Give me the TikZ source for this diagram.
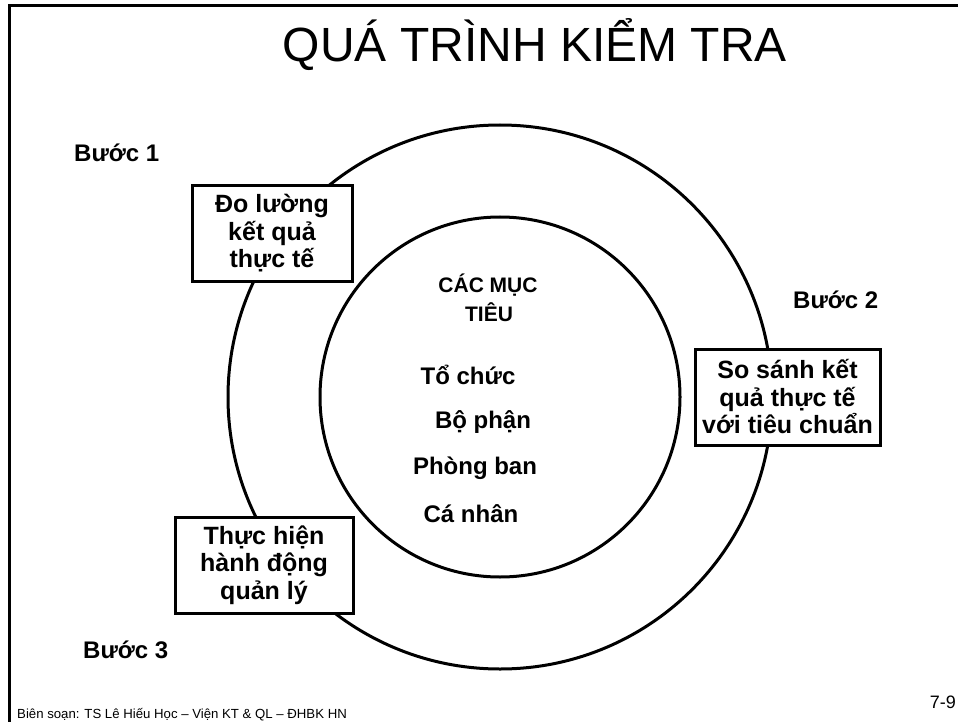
\documentclass[tikz,border=0pt]{standalone}
\usepackage{fontspec}
\setmainfont{Liberation Sans}
\begin{document}
\begin{tikzpicture}[x=1pt,y=-1pt,
  stepbox/.style={draw=black,line width=3pt,fill=white,align=center,font=\fontsize{25}{27.5}\selectfont\bfseries,inner sep=0pt},
  steplabel/.style={anchor=base west,font=\fontsize{24}{27}\selectfont\bfseries,inner sep=0pt},
  goal/.style={anchor=base,font=\fontsize{24}{27}\selectfont\bfseries,inner sep=0pt},
  goalhead/.style={anchor=base,font=\fontsize{21}{27}\selectfont\bfseries,inner sep=0pt}]
\useasboundingbox (0,0) rectangle (958,722);
% frame
\draw[line width=3pt] (9,722) -- (9,6) -- (958,6);
% title
\node[anchor=base,inner sep=0pt,font=\fontsize{48}{50}\selectfont] (title) at (535,62) {QUÁ TRÌNH KIỂM TRA};
% circles
\coordinate (c) at (500,397);
\draw[line width=3pt] (c) circle[radius=272];
\draw[line width=3pt] (c) circle[radius=180];
% boxes
\node[stepbox,minimum width=160pt,minimum height=95pt] (b1) at (272,233.5) {Đo lường\\kết quả\\thực tế};
\node[stepbox,minimum width=185pt,minimum height=96pt] (b2) at (787.5,397) {So sánh kết\\quả thực tế\\với tiêu chuẩn};
\node[stepbox,minimum width=178pt,minimum height=96pt] (b3) at (264,565) {Thực hiện\\hành động\\quản lý};
% step labels
\node[steplabel] (s1) at (74,162) {Bước 1};
\node[steplabel] (s2) at (793,308) {Bước 2};
\node[steplabel] (s3) at (83,658) {Bước 3};
% centre text
\node[goalhead] (g0a) at (488,292) {CÁC MỤC};
\node[goalhead] (g0b) at (489,321) {TIÊU};
\node[goal] (g1) at (468,384) {Tổ chức};
\node[goal] (g2) at (483,428) {Bộ phận};
\node[goal] (g3) at (475,474) {Phòng ban};
\node[goal] (g4) at (471,522) {Cá nhân};
% footer
\node[anchor=base west,inner sep=0pt,font=\fontsize{13.2}{15}\selectfont] (foot) at (17,718) {Biên soạn: TS Lê Hiếu Học – Viện KT \& QL – ĐHBK HN};
\node[anchor=base east,inner sep=0pt,font=\fontsize{18}{20}\selectfont] (pg) at (956,708) {7-9};
\end{tikzpicture}
\end{document}
